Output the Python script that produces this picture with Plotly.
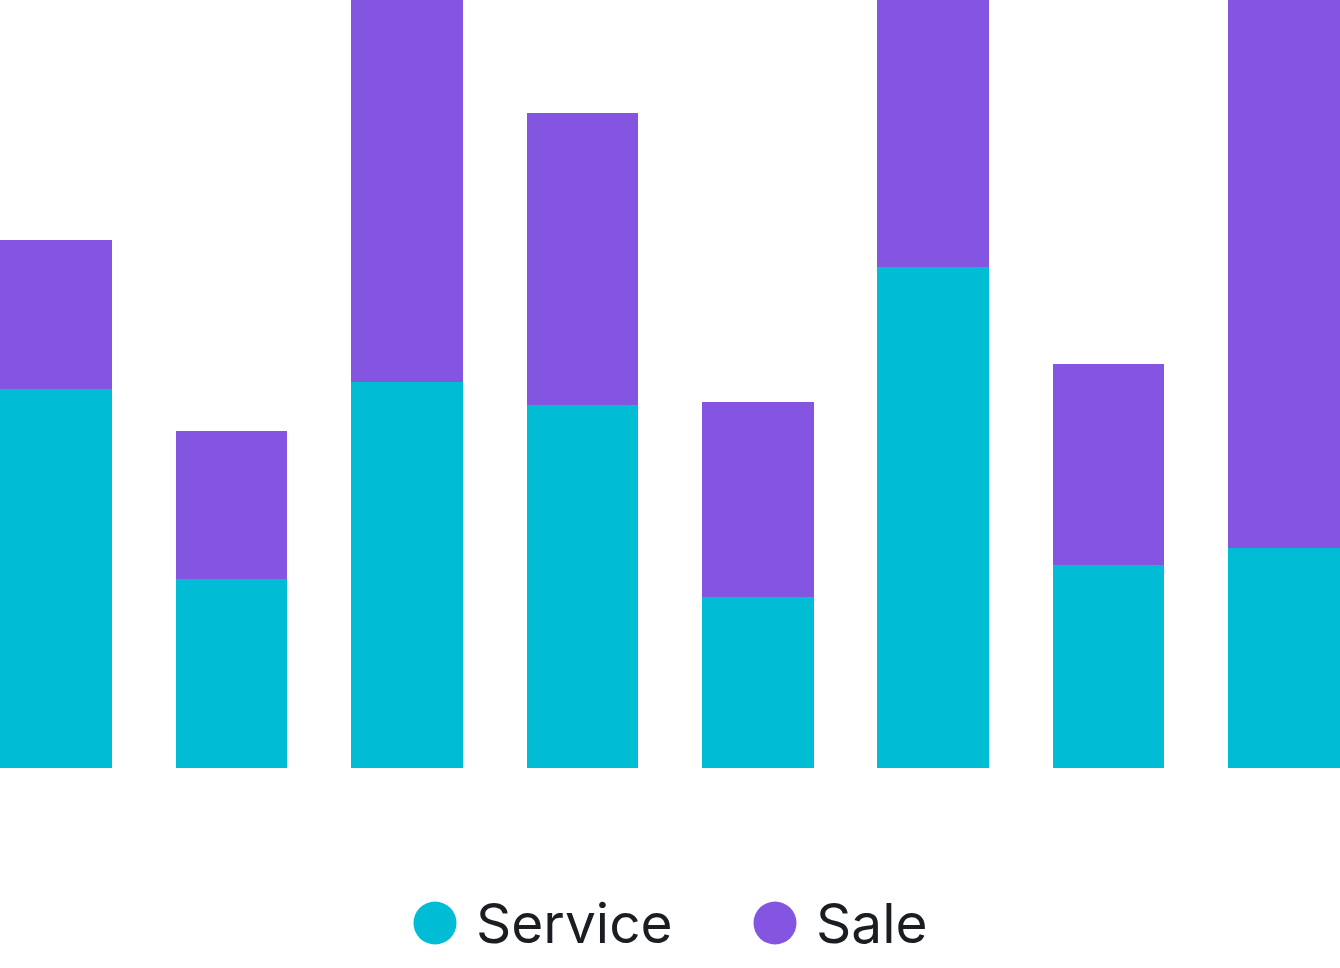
import plotly.graph_objects as go

categories = ["Jan", "Feb", "Mar", "Apr", "May", "Jun", "Jul", "Aug"]
service = [49.3, 24.6, 50.3, 47.3, 22.3, 65.2, 26.4, 28.6]
sale = [19.5, 19.3, 55.0, 38.0, 25.3, 40.0, 26.2, 80.0]
series_names = ["Service", "Sale"]
colors = ["#00BCD4", "#8455E0"]

W, H = 1340, 968
plot_h = 768

fig = go.Figure()
for name, vals, col in zip(series_names, [service, sale], colors):
    fig.add_trace(go.Bar(x=categories, y=vals, name=name, marker=dict(color=col, line=dict(width=0)),
                         showlegend=False))

fig.update_layout(
    width=W, height=H,
    barmode="stack", bargap=0.3645,
    margin=dict(l=0, r=0, t=0, b=H - plot_h),
    paper_bgcolor="white", plot_bgcolor="white",
    xaxis=dict(visible=False, range=[-0.318, 7.318]),
    yaxis=dict(visible=False, range=[0, 100]),
    font=dict(family="Inter", color="#1A1D21"),
)

# custom legend
leg_y_px = 923
leg_y = -(leg_y_px - plot_h) / plot_h
items = [(435, 475), (775, 815)]
for (cx, tx), name, col in zip(items, series_names, colors):
    fig.add_shape(type="circle", xref="paper", yref="paper", xsizemode="pixel", ysizemode="pixel",
                  xanchor=cx / W, yanchor=leg_y, x0=-21.5, x1=21.5, y0=-21.5, y1=21.5,
                  fillcolor=col, line=dict(width=0))
    fig.add_annotation(x=tx / W, y=leg_y, xref="paper", yref="paper", text=name, showarrow=False,
                       xanchor="left", yanchor="middle", font=dict(size=55, family="Inter", color="#1A1D21"),
                       borderpad=0)

fig.write_html("out.html", config={"displayModeBar": False},
               post_script="document.body.style.margin='0';document.body.style.padding='0';")
